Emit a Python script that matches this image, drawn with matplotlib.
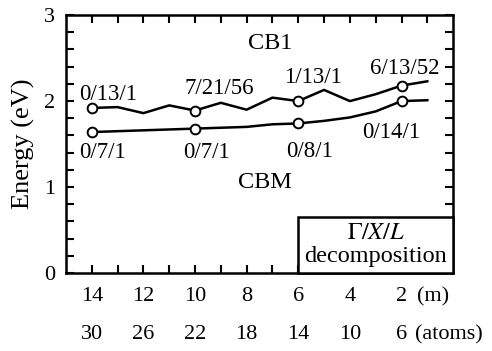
import numpy as np
import matplotlib.pyplot as plt
from matplotlib.patches import Rectangle
import matplotlib.transforms as mtransforms

plt.rcParams['font.family'] = ['Liberation Serif', 'DejaVu Serif']
plt.rcParams['mathtext.fontset'] = 'stix'

# number of layers m and band energies (eV)
m = [14, 13, 12, 11, 10, 9, 8, 7, 6, 5, 4, 3, 2, 1]
cb1 = [1.92, 1.93, 1.86, 1.95, 1.89, 1.98, 1.90, 2.04, 2.00, 2.13, 2.00, 2.08, 2.18, 2.23]
cbm = [1.64, 1.65, 1.66, 1.67, 1.68, 1.69, 1.70, 1.73, 1.74, 1.77, 1.81, 1.88, 2.00, 2.01]

m_ticks = [14, 12, 10, 8, 6, 4, 2]
atom_labels = ['30', '26', '22', '18', '14', '10', '6']

# Gamma/X/L decomposition labels at the marked m values
marked = [14, 10, 6, 2]
cb1_dec = ['0/13/1', '7/21/56', '1/13/1', '6/13/52']
cbm_dec = ['0/7/1', '0/7/1', '0/8/1', '0/14/1']

fig = plt.figure(figsize=(4.92, 3.51), dpi=100)
ax = fig.add_axes([0.134, 0.222, 0.787, 0.735])

mark_idx = [m.index(v) for v in marked]
for series in (cb1, cbm):
    ax.plot(m, series, color='black', lw=1.8, marker='o', markevery=mark_idx,
            ms=7, mfc='white', mec='black', mew=1.4, zorder=4)

ax.set_xlim(15, 0)
ax.set_ylim(0, 3)
ax.set_xticks(m_ticks)
ax.set_xticklabels([str(v) for v in m_ticks])
ax.set_xticks(range(1, 15), minor=True)
ax.set_yticks([0, 1, 2, 3])
ax.set_yticks(np.arange(0, 3.01, 0.2), minor=True)
ax.tick_params(which='both', direction='in', top=True, right=True,
               length=6, width=1.5, labelsize=16)
ax.tick_params(axis='x', which='both', pad=10)
ax.tick_params(axis='y', which='both', pad=8)
for s in ax.spines.values():
    s.set_linewidth(1.8)

ax.set_ylabel('Energy (eV)', fontsize=19, labelpad=6)

# second label row: number of atoms
trans = mtransforms.blended_transform_factory(ax.transData, ax.transAxes)
for v, lab in zip(m_ticks, atom_labels):
    ax.text(v, -0.24, lab, transform=trans, ha='center', va='center', fontsize=16)
ax.text(0.78, -0.093, '(m)', transform=trans, ha='center', va='center', fontsize=16)
ax.text(1.47, -0.24, '(atoms)', transform=trans, ha='left', va='center',
        fontsize=16, clip_on=False)

# decomposition annotations
cb1_pos = [(13.37, 2.08), (9.07, 2.15), (5.43, 2.28), (1.86, 2.38)]
cbm_pos = [(13.57, 1.40), (9.57, 1.40), (5.58, 1.41), (2.4, 1.64)]
for (x, y), lab in zip(cb1_pos, cb1_dec):
    ax.text(x, y, lab, ha='center', va='center', fontsize=16.5)
for (x, y), lab in zip(cbm_pos, cbm_dec):
    ax.text(x, y, lab, ha='center', va='center', fontsize=16.5)

ax.text(7.09, 2.67, 'CB1', ha='center', va='center', fontsize=17.5)
ax.text(7.29, 1.05, 'CBM', ha='center', va='center', fontsize=17.5)

# labelled box in the lower right corner
box = Rectangle((6, 0), -6, 0.65, facecolor='white', edgecolor='black',
                lw=1.8, zorder=5, clip_on=False)
ax.add_patch(box)
ax.text(3, 0.46, r'$\Gamma/X/L$', ha='center', va='center', fontsize=17.5, zorder=6)
ax.text(3, 0.19, 'decomposition', ha='center', va='center', fontsize=17.5, zorder=6)

fig.savefig('out.png', dpi=100)
